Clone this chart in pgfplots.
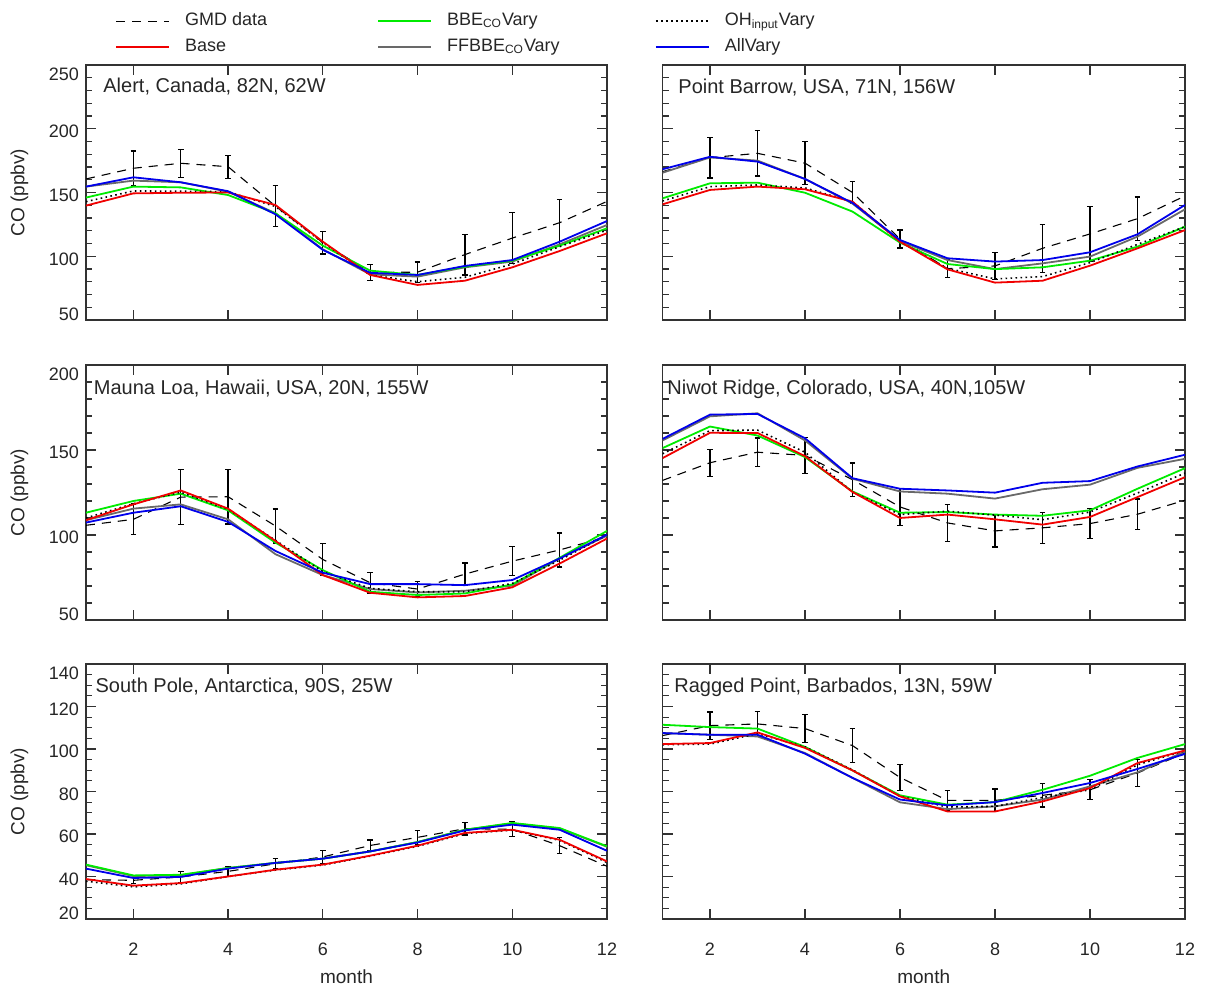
\documentclass[border=0pt]{standalone}
\usepackage{fontspec}
\setmainfont{Liberation Sans}
\usepackage{pgfplots}
\pgfplotsset{compat=1.18}
\usepackage{pgfplotstable}

\definecolor{ffgray}{RGB}{105,105,105}
\definecolor{bbegreen}{RGB}{0,235,0}
\definecolor{allblue}{RGB}{0,0,235}
\definecolor{basered}{RGB}{240,0,0}
\definecolor{framec}{RGB}{50,50,50}

% Alert, Canada
\pgfplotstableread{
m gmd err base bbe oh ff all
1 160.6 0 139.7 146.0 142.8 154.6 154.6
2 169.0 13.5 149.3 154.6 151.2 159.3 161.9
3 172.9 11.0 149.8 154.0 151.0 158.0 158.0
4 170.2 9.0 150.0 148.0 150.6 150.6 151.0
5 139.3 16.0 140.2 133.7 139.0 133.7 132.9
6 110.7 9.0 111.4 108.3 110.7 105.4 105.0
7 87.3 6.5 85.3 88.7 85.3 85.8 87.0
8 87.5 8.0 77.5 85.3 80.0 84.0 85.3
9 101.3 16.0 80.8 91.8 83.5 91.3 92.4
10 114.2 20.0 91.3 96.5 93.9 95.8 97.0
11 126.3 18.0 104.1 108.3 107.5 109.3 111.4
12 143.0 0 118.0 121.9 120.5 124.5 127.6
}\tabA
% Point Barrow
\pgfplotstableread{
m gmd err base bbe oh ff all
1 166.3 0 140.7 145.4 143.3 165.5 168.2
2 177.3 16.0 152.0 157.2 154.6 177.5 178.0
3 180.7 17.8 154.6 157.7 155.9 175.0 174.2
4 173.0 17.0 152.5 149.8 153.6 160.6 160.6
5 150.0 8.5 142.8 135.0 142.8 141.3 141.8
6 113.5 7.0 111.4 110.7 111.4 112.0 112.7
7 90.2 7.0 89.7 93.9 90.5 97.0 98.4
8 92.4 10.5 79.3 89.9 82.2 89.9 95.8
9 106.2 19.0 80.8 91.3 84.0 94.4 97.0
10 117.5 21.5 92.6 96.5 95.0 99.7 103.1
11 129.5 17.0 106.2 107.5 109.3 115.4 117.2
12 147.3 0 120.5 123.2 123.2 136.8 140.2
}\tabB
% Mauna Loa
\pgfplotstableread{
m gmd err base bbe oh ff all
1 105.7 0 108.7 113.1 110.0 108.7 107.3
2 109.2 9.0 118.0 120.0 118.4 115.5 113.1
3 122.3 16.0 126.2 124.3 125.2 118.0 116.9
4 122.5 16.0 115.5 114.5 115.1 109.2 107.7
5 105.3 10.0 96.5 95.5 96.9 88.7 90.6
6 85.6 9.5 76.4 79.3 78.5 76.4 77.8
7 71.9 6.0 66.0 66.6 68.6 68.2 71.1
8 68.2 4.6 63.3 64.7 66.6 66.2 71.1
9 77.0 6.5 64.1 65.6 66.6 67.2 70.5
10 84.6 8.5 69.2 70.9 71.5 70.2 73.5
11 91.2 10.0 83.2 86.6 85.2 86.2 86.2
12 98.9 0 97.9 102.4 100.0 99.6 100.2
}\tabC
% Niwot Ridge
\pgfplotstableread{
m gmd err base bbe oh ff all
1 132.1 0 145.2 151.1 147.8 155.6 156.5
2 142.5 8.0 160.1 163.8 161.4 169.8 170.8
3 148.7 8.4 160.0 158.5 161.7 171.6 171.2
4 146.8 10.7 146.4 145.8 148.7 155.6 156.9
5 132.5 9.8 125.3 125.6 125.3 133.1 133.4
6 116.5 11.0 110.0 113.1 112.0 125.6 127.2
7 107.1 10.7 112.0 113.5 114.0 124.3 126.2
8 102.4 9.5 109.2 112.0 111.7 121.4 124.9
9 104.2 9.0 106.1 111.3 109.0 126.9 130.7
10 106.7 9.0 110.6 114.5 113.5 129.6 131.7
11 112.2 9.0 122.3 127.2 124.7 139.5 140.3
12 120.4 0 134.0 139.3 136.4 144.8 147.2
}\tabD
% South Pole
\pgfplotstableread{
m gmd err base bbe oh ff all
1 38.5 0 38.8 45.6 37.8 45.3 43.7
2 38.2 1.5 35.7 40.5 35.1 40.2 39.3
3 39.8 2.5 36.9 40.8 36.5 40.6 39.8
4 42.4 2.3 40.0 44.0 40.0 44.0 43.7
5 46.0 2.4 43.2 46.4 43.0 46.4 46.4
6 49.2 3.0 45.6 48.4 45.4 48.4 48.4
7 54.6 2.6 49.8 51.8 49.6 51.8 51.8
8 58.4 3.2 54.5 56.2 54.2 56.2 56.0
9 62.5 3.0 60.5 62.0 60.2 62.0 61.7
10 62.2 3.5 62.0 65.2 61.8 65.0 64.4
11 54.5 3.8 57.3 62.8 57.0 62.6 62.0
12 44.8 0 47.1 54.2 46.6 54.0 52.1
}\tabE
% Ragged Point
\pgfplotstableread{
m gmd err base bbe oh ff all
1 106.3 0 102.3 111.4 102.0 107.5 107.5
2 111.0 6.4 102.8 110.3 102.3 106.7 106.7
3 111.8 5.9 107.8 109.6 107.2 105.9 106.7
4 109.6 6.7 100.5 101.0 101.0 98.1 97.8
5 101.6 8.0 89.9 89.9 90.2 86.4 86.4
6 86.6 6.0 77.7 78.2 77.7 74.9 76.2
7 75.8 4.8 70.6 73.8 72.7 71.7 73.5
8 75.8 5.4 70.6 75.0 73.0 73.0 75.0
9 78.2 5.5 75.3 80.8 77.2 76.2 79.3
10 80.8 4.7 81.6 87.4 80.8 82.4 84.0
11 88.7 6.3 93.4 95.8 92.6 89.0 90.6
12 98.1 0 99.3 102.3 99.2 98.8 97.7
}\tabF

\tikzset{ttl/.style={anchor=west, inner sep=0pt, font=\fontsize{10}{12}\selectfont, text=black!85}}

\newcommand{\shiftlab}[1]{\raisebox{#1}[\height][\depth]{\pgfmathprintnumber{\tick}}}

\pgfplotsset{
  sgmd/.style={black, line width=0.55pt, dash pattern=on 4.5pt off 3.5pt},
  sbase/.style={basered, line width=0.9pt, solid},
  sbbe/.style={bbegreen, line width=0.9pt, solid},
  soh/.style={black, line width=0.8pt, dash pattern=on 0.8pt off 1.7pt},
  sff/.style={ffgray, line width=0.9pt, solid},
  sall/.style={allblue, line width=0.9pt, solid},
  serr/.style={black, solid, line width=0.6pt, only marks, mark=*, mark size=0pt,
    mark options={draw=none, fill=none}, forget plot,
    restrict x to domain=2:11,
    error bars/.cd, y dir=both, y explicit,
    error bar style={line width=0.6pt, solid, draw=black},
    error mark options={rotate=90, line width=0.6pt, mark size=1.4pt, solid, draw=black}},
  endlabels/.style={yticklabel={\ifnum\ticknum=0 \shiftlab{2.8pt}\else\ifnum\ticknum=#1 \shiftlab{-4.5pt}\else\shiftlab{-1.4pt}\fi\fi}},
  panel/.style={
    scale only axis, height=127.5pt, anchor=south west,
    xmin=1, xmax=12, xtick={2,4,6,8,10,12},
    axis line style={framec, line width=0.8pt},
    tick style={framec, line width=0.6pt},
    major tick length=5pt, minor tick length=3pt,
    tick label style={font=\fontsize{9}{10}\selectfont, text=black!85},
    /pgf/number format/assume math mode=true,
    label style={font=\fontsize{9.5}{11}\selectfont, text=black!85},
    ylabel style={at={(axis description cs:-0.1276,0.5)}, anchor=center},
    xlabel style={at={(axis description cs:0.5,-0.227)}, anchor=center},
    xticklabel style={yshift=-8.5pt},
  },
}

\newcommand{\panelplots}[1]{%
  \addplot[sgmd, forget plot] table[x=m, y=gmd] {#1};
  \addplot[serr] table[x=m, y=gmd, y error=err] {#1};
  \addplot[sff, forget plot] table[x=m, y=ff] {#1};
  \addplot[sbbe, forget plot] table[x=m, y=bbe] {#1};
  \addplot[soh, forget plot] table[x=m, y=oh] {#1};
  \addplot[sbase, forget plot] table[x=m, y=base] {#1};
  \addplot[sall, forget plot] table[x=m, y=all] {#1};
}

\begin{document}
\begin{tikzpicture}
\path[use as bounding box] (0,0) rectangle (605.5pt,494pt);

% Row 1 left: Alert
\begin{axis}[panel, at={(43pt,334pt)}, width=260.5pt,
  ymin=50, ymax=250, ytick={50,100,150,200,250}, minor y tick num=4,
  endlabels=4,
  xticklabels={}, ylabel={CO (ppbv)},
  legend columns=3,
  legend cell align=left,
  legend image code/.code={\draw[#1] (0pt,0pt) -- (26.5pt,0pt);},
  legend style={at={(axis description cs:0.0557,1.121)}, anchor=west,
    draw=none, fill=none, inner sep=0pt, row sep=3.5pt,
    font=\fontsize{9}{10}\selectfont, text=black!85,
    /tikz/every odd column/.append style={column sep=7.5pt},
    nodes={inner sep=0pt, text height=7pt, text depth=2.5pt, anchor=west}},
]
\addlegendimage{sgmd}\addlegendentry{\makebox[96pt][l]{GMD data}}
\addlegendimage{sbbe}\addlegendentry{\makebox[104pt][l]{BBE\textsubscript{CO}Vary}}
\addlegendimage{soh}\addlegendentry{OH\textsubscript{input}Vary}
\addlegendimage{sbase}\addlegendentry{\makebox[96pt][l]{Base}}
\addlegendimage{sff}\addlegendentry{\makebox[104pt][l]{FFBBE\textsubscript{CO}Vary}}
\addlegendimage{sall}\addlegendentry{AllVary}
\panelplots{\tabA}
\node[ttl] at (rel axis cs:0.0326,0.914) {Alert, Canada, 82N, 62W};
\end{axis}

% Row 1 right: Point Barrow
\begin{axis}[panel, at={(331.25pt,334pt)}, width=261.25pt,
  ymin=50, ymax=250, ytick={50,100,150,200,250}, minor y tick num=4,
  xticklabels={}, yticklabels={}]
\panelplots{\tabB}
\node[ttl] at (rel axis cs:0.0297,0.912) {Point Barrow, USA, 71N, 156W};
\end{axis}

% Row 2 left: Mauna Loa
\begin{axis}[panel, at={(43pt,184pt)}, width=260.5pt,
  ymin=50, ymax=200, ytick={50,100,150,200}, minor y tick num=4,
  endlabels=3,
  xticklabels={}, ylabel={CO (ppbv)}]
\panelplots{\tabC}
\node[ttl] at (rel axis cs:0.0144,0.908) {Mauna Loa, Hawaii, USA, 20N, 155W};
\end{axis}

% Row 2 right: Niwot Ridge
\begin{axis}[panel, at={(331.25pt,184pt)}, width=261.25pt,
  ymin=50, ymax=200, ytick={50,100,150,200}, minor y tick num=4,
  xticklabels={}, yticklabels={}]
\panelplots{\tabD}
\node[ttl] at (rel axis cs:0.0086,0.905) {Niwot Ridge, Colorado, USA, 40N,105W};
\end{axis}

% Row 3 left: South Pole
\begin{axis}[panel, at={(43pt,34.5pt)}, width=260.5pt,
  ymin=20, ymax=140, ytick={20,40,60,80,100,120,140}, minor y tick num=3,
  endlabels=6,
  ylabel={CO (ppbv)}, xlabel={month}]
\panelplots{\tabE}
\node[ttl] at (rel axis cs:0.0177,0.912) {South Pole, Antarctica, 90S, 25W};
\end{axis}

% Row 3 right: Ragged Point
\begin{axis}[panel, at={(331.25pt,34.5pt)}, width=261.25pt,
  ymin=20, ymax=140, ytick={20,40,60,80,100,120,140}, minor y tick num=3,
  yticklabels={}, xlabel={month}]
\panelplots{\tabF}
\node[ttl] at (rel axis cs:0.022,0.91) {Ragged Point, Barbados, 13N, 59W};
\end{axis}
\end{tikzpicture}
\end{document}
